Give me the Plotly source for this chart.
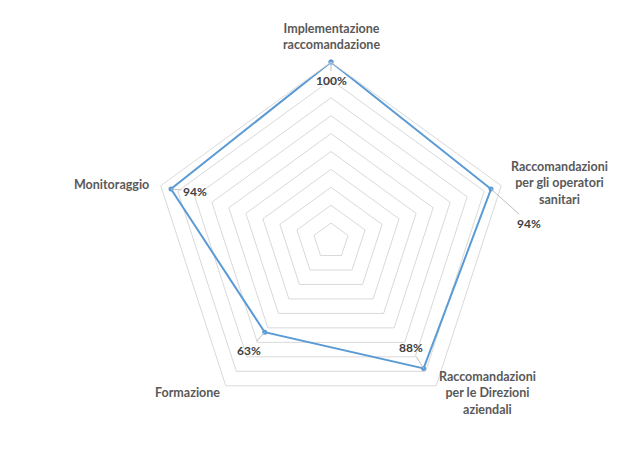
import math
import plotly.graph_objects as go

categories = [
    "Implementazione<br>raccomandazione",
    "Raccomandazioni<br>per gli operatori<br>sanitari",
    "Raccomandazioni<br>per le Direzioni<br>aziendali",
    "Formazione",
    "Monitoraggio",
]
values = [100, 94, 88, 63, 94]
value_labels = ["100%", "94%", "88%", "63%", "94%"]

# value-label offsets (pixels) from each point, drawn with leader lines
label_dx = [0, 38, -13, -16, 24]
label_dy = [18, 34, -21, 18, 2]

# category-label offsets (pixels) from each outer vertex
cat_dx = [0, 58, 51, -38, -49]
cat_dy = [-26, -3, 7, 7, -1]

W, H = 629, 450
ML, MR, MT, MB = 152, 119, 62, 30
plot_w = W - ML - MR
plot_h = H - MT - MB
radius_px = min(plot_w, plot_h) / 2
r_max = 100

line_color = "#5B9BD5"
grid_color = "#D9D9D9"
text_color = "#595959"


def paper_xy(i, r):
    """Paper coordinates of a polar point (category index i, radius r)."""
    ang = 2 * math.pi * i / len(categories)
    rr = r / r_max * radius_px
    return 0.5 + rr * math.sin(ang) / plot_w, 0.5 + rr * math.cos(ang) / plot_h


fig = go.Figure()
fig.add_trace(
    go.Scatterpolar(
        r=values + values[:1],
        theta=categories + categories[:1],
        mode="lines+markers",
        line=dict(color=line_color, width=2),
        marker=dict(color=line_color, size=5),
        hoverinfo="skip",
    )
)

annotations = []
for i, (v, lab) in enumerate(zip(values, value_labels)):
    x, y = paper_xy(i, v)
    annotations.append(
        dict(
            x=x, y=y, xref="paper", yref="paper",
            text="<b>" + lab + "</b>",
            showarrow=True, arrowhead=0, arrowwidth=1, arrowcolor="#BFBFBF",
            ax=label_dx[i], ay=label_dy[i],
            font=dict(family="Lato", size=12, color="#404040"),
        )
    )

for i, cat in enumerate(categories):
    x, y = paper_xy(i, r_max)
    annotations.append(
        dict(
            x=x, y=y, xref="paper", yref="paper",
            text=cat, showarrow=False, align="center",
            xanchor="center", yanchor="middle",
            xshift=cat_dx[i], yshift=-cat_dy[i],
            font=dict(family="Lato", size=12.5, color=text_color, weight="bold"),
        )
    )

fig.update_layout(
    width=W,
    height=H,
    margin=dict(l=ML, r=MR, t=MT, b=MB),
    paper_bgcolor="white",
    showlegend=False,
    annotations=annotations,
    polar=dict(
        bgcolor="white",
        gridshape="linear",
        radialaxis=dict(
            range=[0, r_max],
            dtick=10,
            showticklabels=False,
            ticks="",
            showline=False,
            gridcolor=grid_color,
            gridwidth=1,
        ),
        angularaxis=dict(
            direction="clockwise",
            rotation=90,
            showgrid=False,
            showline=True,
            linecolor=grid_color,
            linewidth=1,
            showticklabels=False,
            ticks="",
        ),
    ),
)

fig.write_html("out.html")
